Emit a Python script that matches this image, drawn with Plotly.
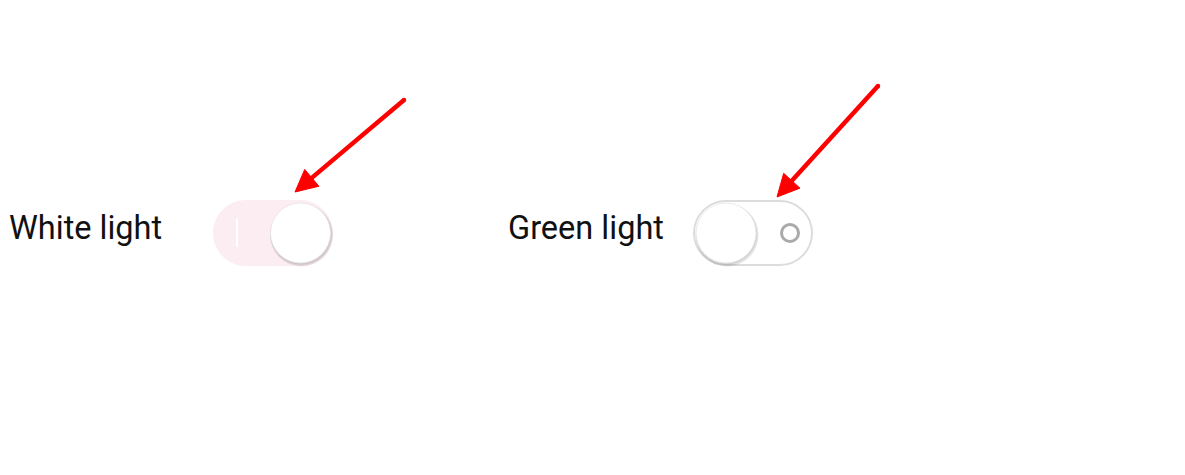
import plotly.graph_objects as go
import math

# ---- content ----
labels = ["White light", "Green light"]
states = [True, False]          # toggle on/off
label_x = [7, 506]
toggle_x = [213, 693]           # pill left edge
arrow_start = [(404, 100), (878, 86)]
arrow_tip = [(295, 192), (777, 197)]

W, H = 1185, 475
OFF = 8  # page body margin
PILL_W, PILL_H = 120, 66
CY = 233

fig = go.Figure()
shapes = []
annotations = []

K = 0.5523


def pill_path(x0, y0, x1, y1):
    r = (y1 - y0) / 2
    cy = (y0 + y1) / 2
    a = x0 + r
    b = x1 - r
    k = K * r
    p = f"M {a},{y0} L {b},{y0} "
    p += f"C {b + k},{y0} {x1},{cy - k} {x1},{cy} "
    p += f"C {x1},{cy + k} {b + k},{y1} {b},{y1} "
    p += f"L {a},{y1} "
    p += f"C {a - k},{y1} {x0},{cy + k} {x0},{cy} "
    p += f"C {x0},{cy - k} {a - k},{y0} {a},{y0} Z"
    return p


def circle(cx, cy, r, fill, line_color=None, lw=0, layer="above"):
    return dict(type="circle", xref="x", yref="y", x0=cx - r, x1=cx + r,
                y0=cy - r, y1=cy + r, fillcolor=fill,
                line=dict(color=line_color or "rgba(0,0,0,0)", width=lw), layer=layer)


for i, (lab, on) in enumerate(zip(labels, states)):
    x0 = toggle_x[i]
    x1 = x0 + PILL_W
    y0 = CY - PILL_H / 2
    y1 = CY + PILL_H / 2
    if on:
        shapes.append(dict(type="path", path=pill_path(x0, y0, x1, y1), xref="x", yref="y",
                           fillcolor="#fcedf2", line=dict(width=0), layer="above"))
        # on-indicator line
        shapes.append(dict(type="line", xref="x", yref="y", x0=x0 + 24, x1=x0 + 24,
                           y0=CY - 14, y1=CY + 14, line=dict(color="white", width=2), layer="above"))
        kx = x1 - 32.5
    else:
        shapes.append(dict(type="path", path=pill_path(x0 + 1, y0 + 1, x1 - 1, y1 - 1), xref="x", yref="y",
                           fillcolor="white", line=dict(color="#dcdcdc", width=2), layer="above"))
        # off-indicator ring
        shapes.append(circle(x1 - 23, CY, 8.5, "rgba(0,0,0,0)", "#a9a9a9", 3))
        kx = x0 + 33
    # knob shadow + knob
    shapes.append(circle(kx + 1, CY + 2, 31.5, "rgba(0,0,0,0.10)"))
    shapes.append(circle(kx + 0.5, CY + 1, 30.8, "rgba(0,0,0,0.08)"))
    shapes.append(circle(kx, CY, 30, "white", "#e6e6e6", 0.8))

    annotations.append(dict(x=label_x[i] + 20, xshift=-20, y=CY - 5, xref="x", yref="y", text=lab,
                            showarrow=False, xanchor="left", yanchor="middle",
                            font=dict(family="Roboto", size=32.5, color="#111111")))

# arrows
for (sx, sy), (tx, ty) in zip(arrow_start, arrow_tip):
    dx, dy = tx - sx, ty - sy
    L = math.hypot(dx, dy)
    ux, uy = dx / L, dy / L
    px, py = -uy, ux
    hl, hw = 22, 11
    bx, by = tx - ux * hl, ty - uy * hl
    shapes.append(dict(type="line", xref="x", yref="y", x0=sx, y0=sy,
                       x1=bx + ux * 2, y1=by + uy * 2,
                       line=dict(color="#ff0000", width=4.5), layer="above"))
    shapes.append(dict(type="path", xref="x", yref="y",
                       path=f"M {tx},{ty} L {bx + px * hw},{by + py * hw} L {bx - px * hw},{by - py * hw} Z",
                       fillcolor="#ff0000", line=dict(color="#ff0000", width=1), layer="above"))
    # round cap at start
    shapes.append(circle(sx, sy, 2.25, "#ff0000"))

fig.update_layout(
    width=W, height=H,
    margin=dict(l=0, r=0, t=0, b=0),
    paper_bgcolor="white", plot_bgcolor="white",
    xaxis=dict(range=[OFF, W + OFF], visible=False, fixedrange=True),
    yaxis=dict(range=[H + OFF, OFF], visible=False, fixedrange=True),
    shapes=shapes, annotations=annotations, showlegend=False,
)
fig.write_html("out.html", config={"displayModeBar": False})
